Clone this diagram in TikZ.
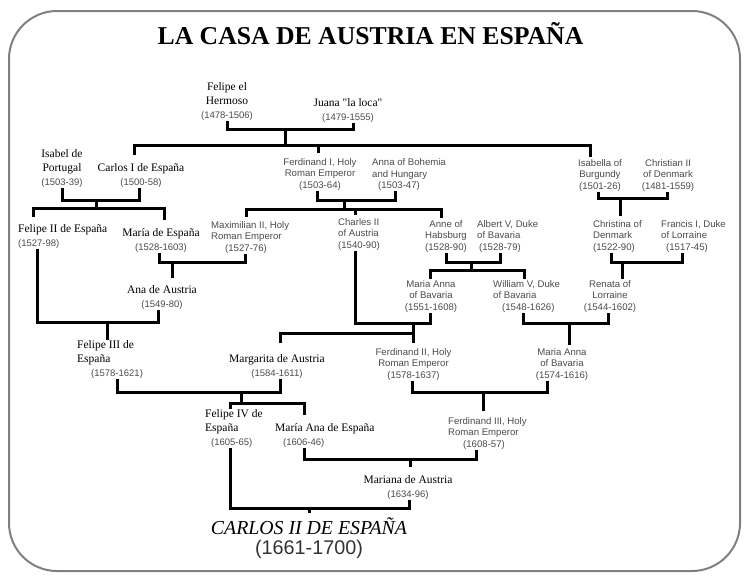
\documentclass[tikz,border=0pt]{standalone}
\usepackage{fontspec}
\setmainfont{Liberation Serif}
\setsansfont{Liberation Sans}
\newfontfamily\yrsfont{Liberation Sans}[Scale=0.826]
\usepackage{tikz}
\usepackage{xcolor}
\definecolor{framegray}{HTML}{808080}
\definecolor{namegray}{HTML}{4A4A4A}
\newcommand{\yrs}[1]{{\yrsfont\color{namegray}(#1)}}

\begin{document}
\begin{tikzpicture}[
  x=1pt, y=-1pt,
  royal/.style={inner sep=0pt, align=center, anchor=south, font=\fontsize{11.5}{14}\selectfont},
  royalleft/.style={royal, align=left, anchor=south west},
  noble/.style={inner sep=0pt, align=center, anchor=south, text=namegray, font=\sffamily\fontsize{9.6}{11.5}\selectfont},
  nobleleft/.style={noble, align=left, anchor=south west},
  link/.style={line width=3pt}
]
\useasboundingbox (0,0) rectangle (749,584);
\draw[framegray, line width=2pt, rounded corners=48pt] (9,11) rectangle (740,571);
\node[anchor=base, inner sep=0pt, font=\bfseries\fontsize{25.7}{30}\selectfont] (title) at (370.5,44) {LA CASA DE AUSTRIA EN ESPAÑA};

% first generation
\node[royal] (felipeh) at (227,120.5) {Felipe el\\Hermoso\\\yrs{1478-1506}};
\node[royal] (juana) at (348,122.5) {Juana \textquotedbl la loca\textquotedbl\\\yrs{1479-1555}};

% second generation
\node[royal] (isabelp) at (62,187.5) {Isabel de\\Portugal\\\yrs{1503-39}};
\node[royal] (carlos1) at (141,187.5) {Carlos I de España\\\yrs{1500-58}};
\node[noble] (ferd1) at (320,190.5) {Ferdinand I, Holy\\Roman Emperor\\(1503-64)};
\node[nobleleft] (annab) at (372,191) {Anna of Bohemia\\and Hungary\\\hspace*{6pt}(1503-47)};
\node[noble] (isabellab) at (600,191.5) {Isabella of\\Burgundy\\(1501-26)};
\node[noble] (christian2) at (668,191.5) {Christian II\\of Denmark\\(1481-1559)};

% third generation
\node[royalleft] (felipe2) at (18,248.5) {Felipe II de España\\\yrs{1527-98}};
\node[royal] (mariae) at (161,252.5) {María de España\\\yrs{1528-1603}};
\node[nobleleft] (maxi2) at (211,253.5) {Maximilian II, Holy\\Roman Emperor\\\hspace*{14pt}(1527-76)};
\node[nobleleft] (charles2) at (338,250.5) {Charles II\\of Austria\\(1540-90)};
\node[noble] (anneh) at (446,252.5) {Anne of\\Habsburg\\(1528-90)};
\node[nobleleft] (albert5) at (477,252.5) {Albert V, Duke\\of Bavaria\\\hspace*{2pt}(1528-79)};
\node[nobleleft] (christinad) at (593,252.5) {Christina of\\Denmark\\(1522-90)};
\node[nobleleft] (francis1) at (661,252.5) {Francis I, Duke\\of Lorraine\\\hspace*{5pt}(1517-45)};

% fourth generation
\node[royal] (anaa) at (162,309.5) {Ana de Austria\\\yrs{1549-80}};
\node[noble] (mariaab1) at (431,312.5) {Maria Anna\\of Bavaria\\(1551-1608)};
\node[nobleleft] (william5) at (493,312.5) {William V, Duke\\of Bavaria\\\hspace*{9pt}(1548-1626)};
\node[noble] (renata) at (610,312.5) {Renata of\\Lorraine\\(1544-1602)};

% fifth generation
\node[royalleft] (felipe3) at (77,378.5) {Felipe III de\\España\\\hspace*{14pt}\yrs{1578-1621}};
\node[royal] (margarita) at (277,378.5) {Margarita de Austria\\\yrs{1584-1611}};
\node[noble] (ferd2) at (413.5,380.5) {Ferdinand II, Holy\\Roman Emperor\\(1578-1637)};
\node[noble] (mariaab2) at (562,380.5) {Maria Anna\\of Bavaria\\(1574-1616)};

% sixth generation
\node[royalleft] (felipe4) at (205,447.5) {Felipe IV de\\España\\\hspace*{6pt}\yrs{1605-65}};
\node[royalleft] (mariaanae) at (275,447.5) {María Ana de España\\\hspace*{8pt}\yrs{1606-46}};
\node[nobleleft] (ferd3) at (448,449.5) {Ferdinand III, Holy\\Roman Emperor\\\hspace*{15pt}(1608-57)};
\node[royal] (mariana) at (408,499.5) {Mariana de Austria\\\yrs{1634-96}};

% last
\node[inner sep=0pt, align=center, anchor=south, font=\fontsize{19.8}{20}\selectfont] (carlos2) at (309,559)
  {\textit{CARLOS II DE ESPAÑA}\\{\sffamily\color{black!80}(1661-1700)}};

% marriage bars and sibling bars
\coordinate (fj) at (285.5,129.5);
\coordinate (fjkids) at (285.5,145);
\coordinate (ic) at (96,200);
\coordinate (ickids) at (96,208.5);
\coordinate (fa) at (344.5,200);
\coordinate (fakids) at (344.5,209.5);
\coordinate (ib) at (620,198);
\coordinate (mm) at (172,262);
\coordinate (aa) at (471,262);
\coordinate (aakids) at (471,270);
\coordinate (cf) at (622,262);
\coordinate (fana) at (107,322);
\coordinate (cm) at (413,323);
\coordinate (cmkids) at (413,333);
\coordinate (wr) at (569,323);
\coordinate (fm) at (241,392);
\coordinate (fmkids) at (241,403);
\coordinate (fmb) at (483,392);
\coordinate (mf) at (410,459);
\coordinate (fmar) at (309,508);

\draw[link] (felipeh.south) |- (fj) -| ([xshift=5pt]juana.south);
\draw[link] (fj) -- (fjkids);
\draw[link, shorten >=8pt] (fjkids) -| ([xshift=-7pt]carlos1.north);
\draw[link, shorten >=5pt] (fjkids) -| ([xshift=-2pt]ferd1.north);
\draw[link, shorten >=2.5pt] (fjkids) -| ([xshift=-10pt]isabellab.north);

\draw[link] (isabelp.south) |- (ic) -| ([xshift=-2pt]carlos1.south);
\draw[link] (ic) -- (ickids);
\draw[link, shorten >=7.5pt] (ickids) -| ([xshift=15pt]felipe2.north west);
\draw[link, shorten >=8.5pt] (ickids) -| ([xshift=3pt]mariae.north);

\draw[link] ([xshift=-2.5pt]ferd1.south) |- (fa) -| ([xshift=23pt]annab.south west);
\draw[link] (fa) -- (fakids);
\draw[link, shorten >=4.5pt] (fakids) -| ([xshift=35pt]maxi2.north west);
\draw[link, shorten >=3.5pt] (fakids) -| ([xshift=17.5pt]charles2.north west);
\draw[link, shorten >=2.5pt] (fakids) -| ([xshift=-4.5pt]anneh.north);

\draw[link] ([xshift=-2pt]isabellab.south) |- (ib) -| ([xshift=-1pt]christian2.south);
\draw[link, shorten >=4pt] (ib) -- (ib |- christinad.north);

\draw[link] ([xshift=-2pt]mariae.south) |- (mm) -| ([xshift=34pt]maxi2.south west);
\draw[link, shorten >=7.5pt] (mm) -- (mm |- anaa.north);

\draw[link] (anneh.south) |- (aa) -| ([xshift=23pt]albert5.south west);
\draw[link] (aa) -- (aakids);
\draw[link, shorten >=1.5pt] (aakids) -| ([xshift=-1pt]mariaab1.north);
\draw[link, shorten >=1.5pt] (aakids) -| ([xshift=31pt]william5.north west);

\draw[link] ([xshift=18pt]christinad.south west) |- (cf) -| ([xshift=21pt]francis1.south west);
\draw[link, shorten >=1.5pt] (cf) -- (cf |- renata.north);

\draw[link] ([xshift=19pt]felipe2.south west) |- (fana) -| ([xshift=-4pt]anaa.south);
\draw[link] (fana) -- (fana |- felipe3.north);

\draw[link] ([xshift=17.5pt]charles2.south west) |- (cm) -| ([xshift=-1pt]mariaab1.south);
\draw[link] (cm) -- (cmkids);
\draw[link, shorten >=11.5pt] (cmkids) -| ([xshift=3pt]margarita.north);
\draw[link, shorten >=5.5pt] (cmkids) -- (cmkids |- ferd2.north);

\draw[link] ([xshift=30pt]william5.south west) |- (wr) -| ([xshift=-2pt]renata.south);
\draw[link, shorten >=3.5pt] (wr) -- (wr |- mariaab2.north);

\draw[link] ([xshift=40pt]felipe3.south west) |- (fm) -| ([xshift=3pt]margarita.south);
\draw[link] (fm) -- (fmkids);
\draw[link] (fmkids) -| ([xshift=25pt]felipe4.north west);
\draw[link, shorten >=8.5pt] (fmkids) -| ([xshift=29pt]mariaanae.north west);

\draw[link] ([xshift=-1.5pt]ferd2.south) |- (fmb) -| ([xshift=-15pt]mariaab2.south);
\draw[link, shorten >=6.5pt] (fmb) -- (fmb |- ferd3.north);

\draw[link] ([xshift=29pt]mariaanae.south west) |- (mf) -| ([xshift=28pt]ferd3.south west);
\draw[link, shorten >=8.5pt] (mf) -- (mf |- mariana.north);

\draw[link] ([xshift=25pt]felipe4.south west) |- (fmar) -| ([xshift=1pt]mariana.south);
\draw[link, shorten >=4.5pt] (fmar) -- (fmar |- carlos2.north);
\end{tikzpicture}
\end{document}
